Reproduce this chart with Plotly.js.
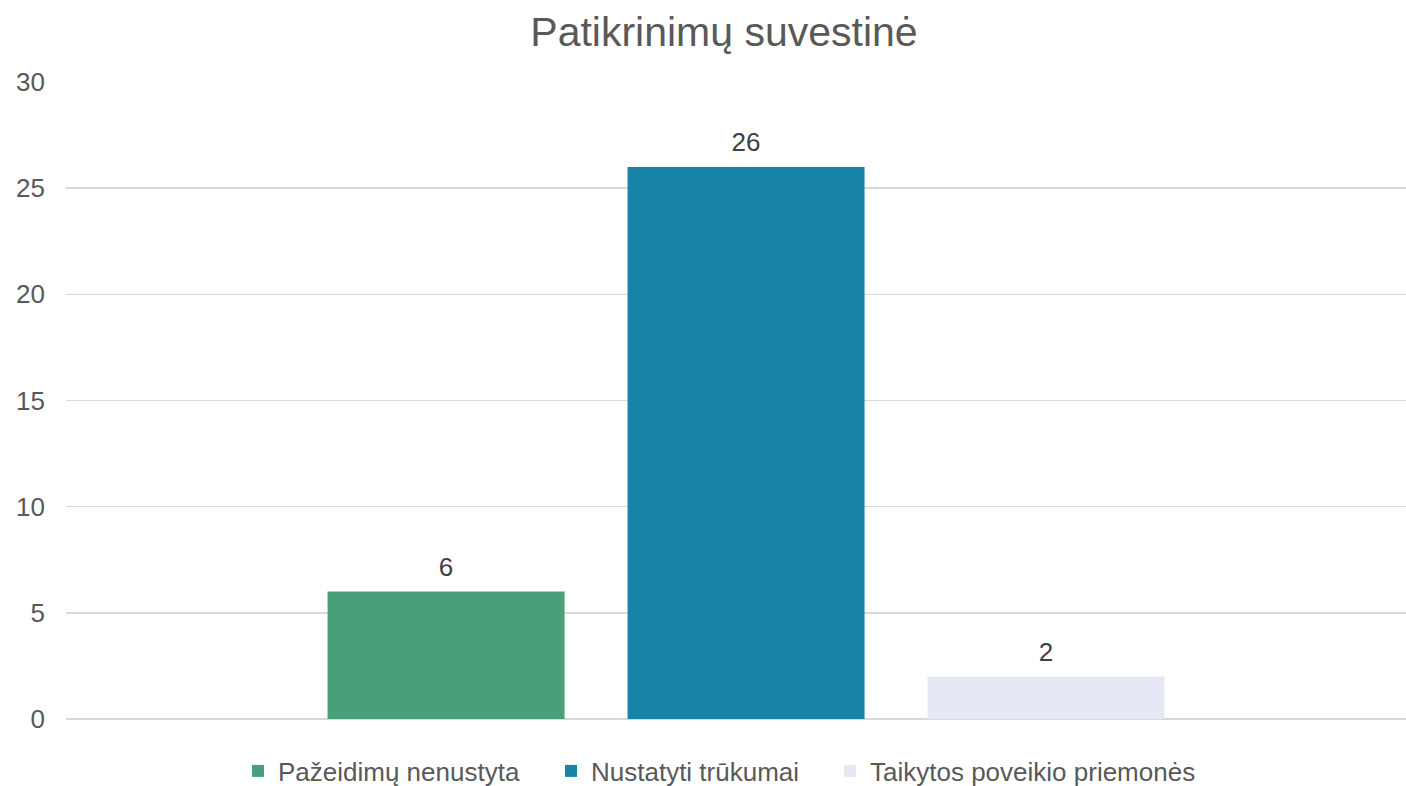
<!DOCTYPE html>
<html>
<head>
<meta charset="utf-8">
<script src="https://cdn.plot.ly/plotly-3.0.1.min.js"></script>
<style>html,body{margin:0;padding:0;background:#fff;}#chart{width:1406px;height:786px;}</style>
</head>
<body>
<div id="chart"></div>
<script>
const seriesNames = ["Pažeidimų nenustyta", "Nustatyti trūkumai", "Taikytos poveikio priemonės"];
const seriesValues = [6, 26, 2];
const seriesColors = ["#4A9F7B", "#1784A5", "#E6E9F5"];
const yTicks = [0, 5, 10, 15, 20, 25, 30];
const chartTitle = "Patikrinimų suvestinė";

const FONT = "Liberation Sans, Arial, sans-serif";
const legendIds = ["legend", "legend2", "legend3"];
const legendLeftPx = [238, 551, 830];

const barTraces = seriesNames.map((name, i) => ({
  type: "bar",
  name: name,
  legend: legendIds[i],
  x: [0],
  y: [seriesValues[i]],
  marker: {color: seriesColors[i], line: {width: 0}},
  hoverinfo: "skip"
}));

const labelTraces = seriesNames.map((name, i) => ({
  type: "scatter",
  mode: "markers+text",
  name: name + " (reikšmė)",
  showlegend: false,
  x: [0],
  y: [seriesValues[i]],
  text: [String(seriesValues[i])],
  textposition: "top center",
  marker: {size: 13, color: "rgba(0,0,0,0)"},
  cliponaxis: false,
  textfont: {family: FONT, size: 26, color: "#404040"},
  hoverinfo: "skip"
}));

const layout = {
  width: 1406,
  height: 786,
  margin: {l: 66, r: 0, t: 82, b: 67, autoexpand: false},
  paper_bgcolor: "#ffffff",
  plot_bgcolor: "#ffffff",
  font: {family: FONT, size: 26, color: "#595959"},
  title: {
    text: chartTitle,
    font: {family: FONT, size: 41, color: "#595959"},
    x: 724/1406,
    xref: "container",
    xanchor: "center",
    y: 1 - 32/786,
    yref: "container",
    yanchor: "middle"
  },
  barmode: "group",
  bargap: 0.3284,
  bargroupgap: 0.21,
  scattermode: "group",
  scattergap: 0.3284,
  showlegend: true,
  xaxis: {
    type: "linear",
    range: [-0.5075, 0.4925],
    showticklabels: false,
    showgrid: false,
    zeroline: false,
    showline: false,
    ticks: "",
    fixedrange: true
  },
  yaxis: {
    range: [0, 30],
    tickvals: yTicks,
    ticktext: yTicks.map(String),
    showgrid: true,
    gridcolor: "#D9D9D9",
    gridwidth: 1.5,
    zeroline: true,
    zerolinecolor: "#D9D9D9",
    zerolinewidth: 1.5,
    showline: false,
    ticks: "",
    ticklabelstandoff: 20,
    tickfont: {family: FONT, size: 26, color: "#595959"},
    fixedrange: true
  }
};

legendIds.forEach((id, i) => {
  layout[id] = {
    orientation: "h",
    x: legendLeftPx[i]/1406,
    xref: "container",
    xanchor: "left",
    y: (786-771)/786,
    yref: "container",
    yanchor: "middle",
    font: {family: FONT, size: 26, color: "#595959"},
    itemwidth: 30,
    bgcolor: "rgba(0,0,0,0)"
  };
});

Plotly.newPlot("chart", barTraces.concat(labelTraces), layout, {displayModeBar: false, staticPlot: true});
</script>
</body>
</html>
